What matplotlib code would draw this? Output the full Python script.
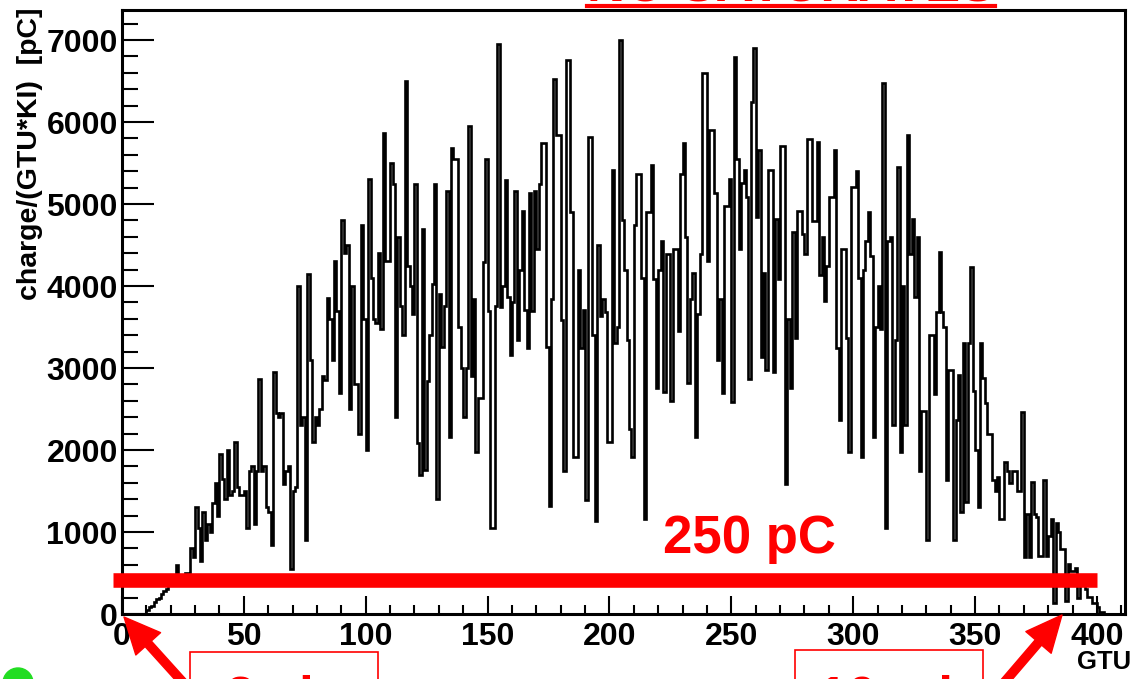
import numpy as np
import matplotlib
matplotlib.use("Agg")
import matplotlib.pyplot as plt
from matplotlib.ticker import MultipleLocator
from matplotlib import patches

plt.rcParams['font.family'] = ['Liberation Sans', 'DejaVu Sans']

# ---- data: charge per GTU bin (pC), bins of 1 GTU starting at 0 ----
rise = [0, 0, 0, 0, 0, 0, 0, 0, 0, 0,
        50, 80, 100, 150, 180, 200, 250, 280, 300, 350, 380, 420, 600, 380, 450,
        350, 500, 420, 800, 700, 1300, 1050, 650, 1250, 900, 1100, 1000, 1350, 1600,
        1200, 1950, 1650, 1400, 2000, 1450, 1500, 2100, 1550, 1450]
seg_049_101 = [1450, 1500, 1050, 1750, 1800, 1100, 1750, 2870, 1750, 1800, 1300, 1250,
               840, 2950, 2450, 2400, 2450, 1580, 1750, 1800, 550, 1500, 1550, 4000,
               2300, 2400, 900, 4150, 3100, 2100, 2400, 2300, 2500, 2900, 2850, 3850,
               3600, 3100, 4300, 3700, 2700, 4800, 4400, 4500, 2500, 4000, 2800, 2800,
               2200, 4750, 3600, 2000, 5300]
seg_102_151 = [4100, 3600, 3550, 4400, 3470, 5870, 4300, 4300, 5500, 5240, 2400, 4600,
               3760, 3400, 6500, 4240, 4000, 3660, 5240, 2080, 1700, 4700, 1760, 2840,
               3400, 4030, 5240, 1400, 3900, 3260, 3760, 5160, 2160, 5680, 5550, 5550,
               3500, 3000, 2400, 3000, 5950, 2900, 3840, 1970, 2630, 2630, 4290, 5550,
               3700, 1050]
seg_152_200 = [1050, 3760, 6950, 3740, 4000, 5290, 3870, 3160, 3800, 5160, 3340, 4200,
               4920, 3710, 3240, 5130, 3700, 5160, 4450, 5240, 5740, 5740, 3260, 1320,
               3840, 6530, 5840, 5840, 3580, 1740, 6760, 6760, 4900, 1920, 1920, 4200,
               3240, 3710, 1390, 5820, 5820, 3400, 1130, 4500, 3630, 3840, 3680, 2100,
               2100]
seg_201_249 = [5420, 3300, 3500, 7000, 4800, 4200, 3340, 2260, 1920, 4740, 5370, 5370,
               4100, 1160, 4900, 4900, 5470, 4080, 2760, 4200, 4550, 2710, 4390, 4390,
               2600, 4450, 4450, 3450, 5370, 5740, 4600, 2820, 3840, 4160, 2160, 3660,
               4390, 6600, 6600, 4300, 5900, 5900, 5130, 3100, 3840, 2700, 4970, 4970,
               5300]
seg_250_298 = [2580, 6790, 5550, 4450, 5260, 5420, 5080, 2870, 6240, 6900, 4840, 5660,
               3130, 4160, 2970, 5420, 5420, 2950, 4820, 4080, 5710, 5710, 1580, 3600,
               2760, 4660, 3370, 4920, 4920, 4630, 4390, 5790, 5790, 4790, 4790, 5760,
               4130, 4600, 3820, 4240, 5080, 5080, 5660, 3240, 2370, 4450, 4450, 3370,
               1970]
seg_299_347 = [5210, 5210, 5400, 4100, 1920, 4200, 4550, 4900, 4370, 2160, 3500, 4000,
               3470, 6470, 1050, 4550, 4600, 2300, 3340, 5450, 1970, 4000, 2300, 5840,
               4390, 4820, 3870, 4600, 1740, 2470, 2470, 900, 3400, 3400, 2680, 3680,
               4420, 3680, 3500, 1630, 2970, 2970, 900, 2370, 2920, 1240, 3300, 1370,
               3300]
fall = [4230, 2720, 2000, 1300, 3300, 2880, 2570, 2200, 2200, 1640, 1500, 1670, 1160,
        1160, 1850, 1750, 1600, 1750, 1750, 1500, 1500, 2460, 690, 1220, 690, 1610,
        1220, 1180, 710, 710, 1640, 710, 950, 1160, 130, 1110, 1000, 790, 790, 160,
        610, 530, 530, 560, 190, 400, 400, 300, 210, 210, 130, 130, 80, 30, 30,
        0, 0, 0, 0, 0, 0, 0, 0, 0]

charge = np.array(rise + seg_049_101 + seg_102_151 + seg_152_200 + seg_201_249
                  + seg_250_298 + seg_299_347 + fall, dtype=float)
edges = np.arange(len(charge) + 1)

x_ticks = list(range(0, 401, 50))
y_ticks = list(range(0, 7001, 1000))

W, H = 1137, 679
fig = plt.figure(figsize=(W / 100, H / 100), dpi=100)
ax = fig.add_axes([122 / W, 65 / H, (1125 - 122) / W, (614 - 10) / H])

ax.stairs(charge, edges, color='black', lw=1.9, baseline=0)

ax.set_xlim(0, 411.5)
ax.set_ylim(0, 7366)
ax.set_xticks(x_ticks)
ax.set_yticks(y_ticks)
ax.xaxis.set_minor_locator(MultipleLocator(10))
ax.yaxis.set_minor_locator(MultipleLocator(200))
ax.tick_params(axis='both', which='both', direction='in', top=False, right=False,
               width=1.5, labelsize=23)
ax.tick_params(axis='x', which='major', length=13, pad=6)
ax.tick_params(axis='x', which='minor', length=6.5)
ax.tick_params(axis='y', which='major', length=23, pad=3)
ax.tick_params(axis='y', which='minor', length=11.5)
for lab in ax.get_xticklabels() + ax.get_yticklabels():
    lab.set_fontweight('bold')
for s in ax.spines.values():
    s.set_linewidth(2.2)

fig.text(30 / W, 1 - 7 / H, 'charge/(GTU*KI)  [pC]', rotation=90, ha='center',
         va='top', fontsize=20.5, fontweight='bold')
fig.text(1131 / W, 1 - 662 / H, 'GTU', ha='right', va='center', fontsize=18.5,
         fontweight='bold')

# red annotations
ax.plot([-3.7, 400], [415, 415], color='#ff0000', lw=10.5, solid_capstyle='butt',
        clip_on=False, zorder=5)
fig.text(749 / W, (H - 553) / H, '250 pC', ha='center', va='baseline', fontsize=38,
         fontweight='bold', color='#ff0000')
fig.text(791 / W, (H - 1) / H, 'NO SATURATES', ha='center', va='baseline', fontsize=38,
         fontweight='bold', color='#ff0000')
fig.add_artist(plt.Line2D([587 / W, 995 / W], [(H - 6) / H, (H - 6) / H],
                          color='#ff0000', lw=3, transform=fig.transFigure))

fig.add_artist(patches.Rectangle((190 / W, -0.05), 188 / W, (H - 652) / H + 0.05,
                                 transform=fig.transFigure, fill=False,
                                 edgecolor='#ff0000', lw=1.2))
fig.add_artist(patches.Rectangle((795 / W, -0.05), 188 / W, (H - 650) / H + 0.05,
                                 transform=fig.transFigure, fill=False,
                                 edgecolor='#ff0000', lw=1.2))
fig.text(226 / W, (H - 714) / H, '3 ch', ha='left', va='baseline', fontsize=38,
         fontweight='bold', color='#ff0000')
fig.text(818 / W, (H - 713) / H, '10 min', ha='left', va='baseline', fontsize=38,
         fontweight='bold', color='#ff0000')

fig.add_artist(patches.Ellipse((18 / W, -4 / H), 30 / W, 30 / H,
                               transform=fig.transFigure, color='#22dd22'))

arrow_kw = dict(facecolor='#ff0000', edgecolor='#ff0000', width=6, headwidth=24,
                headlength=26, shrink=0)
ax.annotate('', xy=(124, 62), xytext=(198, -20), xycoords='figure pixels',
            textcoords='figure pixels', arrowprops=arrow_kw, annotation_clip=False)
ax.annotate('', xy=(1062, 64), xytext=(990, -20), xycoords='figure pixels',
            textcoords='figure pixels', arrowprops=arrow_kw, annotation_clip=False)

fig.savefig('out.png', dpi=100)
